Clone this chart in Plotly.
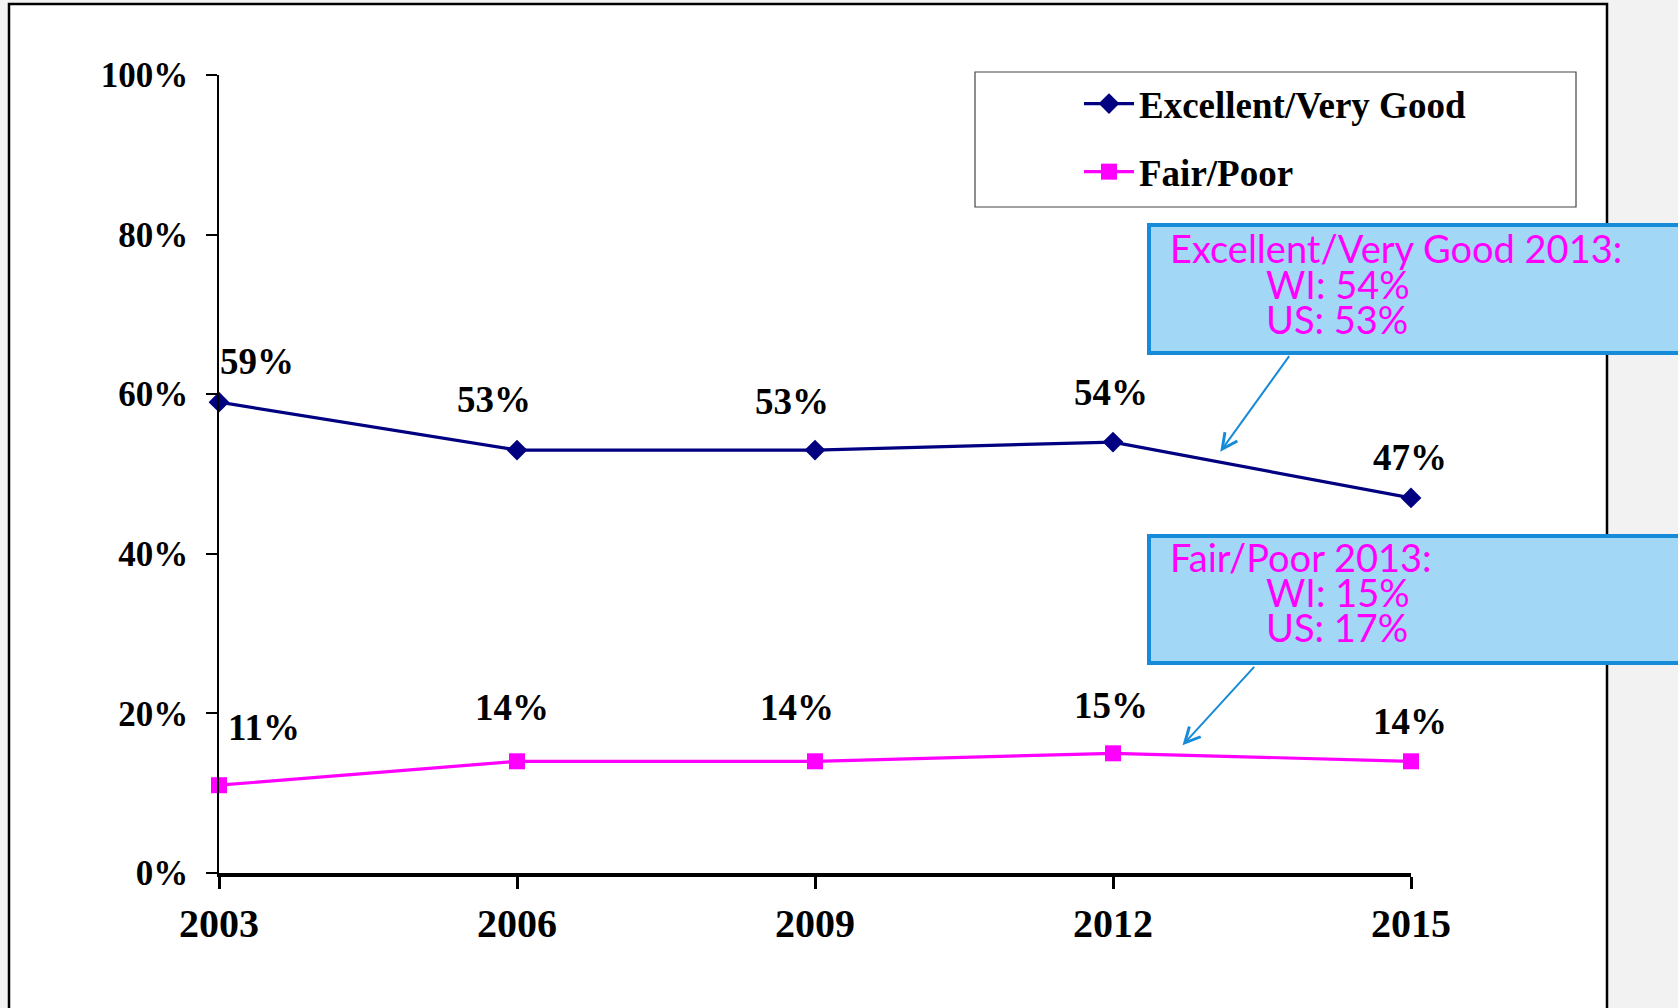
import plotly.graph_objects as go

# ---------------- data ----------------
years = [2003, 2006, 2009, 2012, 2015]
year_labels = ["2003", "2006", "2009", "2012", "2015"]
excellent = [59, 53, 53, 54, 47]
fair_poor = [11, 14, 14, 15, 14]
y_ticks = [0, 20, 40, 60, 80, 100]
y_tick_labels = ["0%", "20%", "40%", "60%", "80%", "100%"]
series_names = ["Excellent/Very Good", "Fair/Poor"]

callout1_lines = ["Excellent/Very Good 2013:", "WI: 54%", "US: 53%"]
callout2_lines = ["Fair/Poor 2013:", "WI: 15%", "US: 17%"]
callout1_target = (2013.08, 52.8)
callout2_target = (2012.7, 16.0)

# label offsets (px) relative to each point: (dx, dy-up)
exc_offsets = [(38, 41), (-23, 51), (-23, 49), (-2, 50), (-1, 40)]
fair_offsets = [(45, 58), (-5, 54), (-18, 54), (-2, 48), (-1, 40)]

# ---------------- layout geometry ----------------
W, H = 1678, 1008
ML, MR, MT, MB = 219, 267, 75, 135
PW = W - ML - MR
PH = H - MT - MB


def px_x(px):
    return (px - ML) / PW


def px_y(py):
    return (H - MB - py) / PH


NAVY = "#000080"
MAGENTA = "#FF00FF"
BOX_FILL = "#A3D7F6"
BOX_LINE = "#168BD8"
SERIF = "Liberation Serif"

fig = go.Figure()

fig.add_trace(go.Scatter(
    x=years, y=excellent, name=series_names[0], mode="lines+markers",
    line=dict(color=NAVY, width=3.2),
    marker=dict(symbol="diamond", size=16, color=NAVY),
    cliponaxis=False, legendgroup="a",
))
fig.add_trace(go.Scatter(
    x=years, y=fair_poor, name=series_names[1], mode="lines+markers",
    line=dict(color=MAGENTA, width=3.2),
    marker=dict(symbol="square", size=16, color=MAGENTA),
    cliponaxis=False, legendgroup="b",
))

annotations = []
for yr, v, (dx, dy) in zip(years, excellent, exc_offsets):
    annotations.append(dict(x=yr, y=v, text=f"{v}%", showarrow=False,
                            xshift=dx, yshift=dy,
                            font=dict(family=SERIF, size=37, color="black", weight="bold")))
for yr, v, (dx, dy) in zip(years, fair_poor, fair_offsets):
    annotations.append(dict(x=yr, y=v, text=f"{v}%", showarrow=False,
                            xshift=dx, yshift=dy,
                            font=dict(family=SERIF, size=37, color="black", weight="bold")))

# callout texts
CALL_FONT = dict(family="Lato", size=38, color=MAGENTA)
line_y1 = [248, 284, 319]
line_y2 = [557, 592, 627]
line_x = [1168, 1264, 1264]
for lines, ys in ((callout1_lines, line_y1), (callout2_lines, line_y2)):
    for t, yy, xx in zip(lines, ys, line_x):
        annotations.append(dict(xref="paper", yref="paper", x=px_x(xx), y=px_y(yy),
                                xanchor="left", yanchor="middle", text=t,
                                showarrow=False, font=CALL_FONT))

# callout arrows
annotations.append(dict(x=callout1_target[0], y=callout1_target[1], text="",
                        showarrow=True, arrowhead=5, arrowsize=1.5, arrowwidth=2,
                        arrowcolor=BOX_LINE, ax=70, ay=-97, standoff=0))
annotations.append(dict(x=callout2_target[0], y=callout2_target[1], text="",
                        showarrow=True, arrowhead=5, arrowsize=1.5, arrowwidth=2,
                        arrowcolor=BOX_LINE, ax=73, ay=-80, standoff=0))

shapes = [
    # chart area white panel
    dict(type="rect", xref="paper", yref="paper", layer="below",
         x0=px_x(9), x1=px_x(1607), y0=px_y(4), y1=px_y(1030),
         fillcolor="white", line=dict(color="black", width=2.5)),
    # legend box
    dict(type="rect", xref="paper", yref="paper", layer="below",
         x0=px_x(975), x1=px_x(1576), y0=px_y(72), y1=px_y(207),
         fillcolor="white", line=dict(color="#444444", width=1.2)),
    # callout boxes
    dict(type="rect", xref="paper", yref="paper", layer="above",
         x0=px_x(1149), x1=px_x(1700), y0=px_y(225), y1=px_y(353),
         fillcolor=BOX_FILL, line=dict(color=BOX_LINE, width=4)),
    dict(type="rect", xref="paper", yref="paper", layer="above",
         x0=px_x(1149), x1=px_x(1700), y0=px_y(536), y1=px_y(663),
         fillcolor=BOX_FILL, line=dict(color=BOX_LINE, width=4)),
]

fig.update_layout(
    width=W, height=H, autosize=False,
    margin=dict(l=ML, r=MR, t=MT, b=MB, pad=0),
    paper_bgcolor="#F2F2F2", plot_bgcolor="rgba(0,0,0,0)",
    showlegend=True,
    legend=dict(x=px_x(1079), y=px_y(73), xanchor="left", yanchor="top",
                bgcolor="rgba(0,0,0,0)", borderwidth=0, tracegroupgap=17,
                itemwidth=50,
                font=dict(family=SERIF, size=37, color="black", weight="bold")),
    xaxis=dict(range=[years[0], years[-1]], tickvals=years, ticktext=year_labels,
               showline=True, linecolor="black", linewidth=3.5,
               ticks="outside", ticklen=12, tickwidth=3, tickcolor="black",
               showgrid=False, zeroline=False, ticklabelstandoff=0,
               tickfont=dict(family=SERIF, size=40, color="black", weight="bold")),
    yaxis=dict(range=[0, 100], tickvals=y_ticks, ticktext=y_tick_labels,
               showline=True, linecolor="black", linewidth=1.5,
               ticks="outside", ticklen=11, tickwidth=1.5, tickcolor="black",
               showgrid=False, zeroline=False, ticklabelstandoff=11,
               tickfont=dict(family=SERIF, size=35, color="black", weight="bold")),
    annotations=annotations,
    shapes=shapes,
)

fig.write_html("out.html", config={"displayModeBar": False},
               post_script="document.body.style.margin='0';document.body.style.background='#F2F2F2';")
